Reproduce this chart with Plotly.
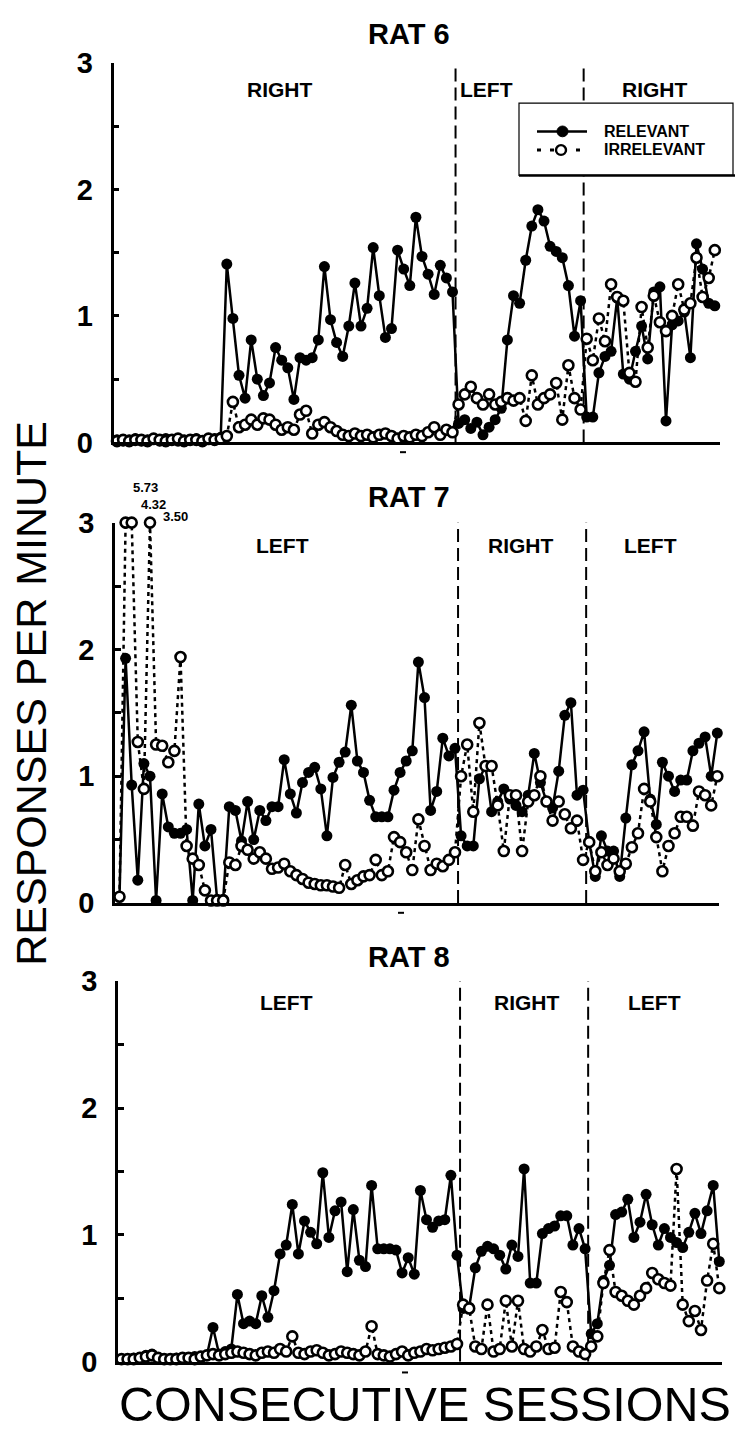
import numpy as np
import plotly.graph_objects as go

# ---------------- data ----------------
sessions = list(range(1, 100))

rat6_relevant = (
    [0.02, 0.01, 0.02, 0.03, 0.01, 0.02, 0.02, 0.01, 0.03, 0.02, 0.01, 0.02, 0.02, 0.03, 0.01, 0.02, 0.03, 0.04]
    + [1.41, 0.98, 0.53, 0.35, 0.81, 0.50, 0.37, 0.47, 0.75, 0.65, 0.59, 0.34, 0.67, 0.65, 0.67, 0.81, 1.39, 0.97,
       0.79, 0.68, 0.92, 1.26, 0.92, 1.06, 1.54, 1.16, 0.83, 0.90, 1.52, 1.37, 1.24, 1.78, 1.47, 1.33, 1.17, 1.40,
       1.30, 1.19]
    + [0.15, 0.18, 0.11, 0.16, 0.06, 0.12, 0.18, 0.27, 0.81, 1.16, 1.10, 1.44, 1.71, 1.84, 1.75, 1.55, 1.51, 1.46,
       1.24, 0.84, 1.12]
    + [0.20, 0.20, 0.55, 0.68, 0.72, 1.14, 0.54, 0.50, 0.72, 0.92, 0.66, 1.19, 1.23, 0.17, 0.93, 0.96, 1.03, 0.67,
       1.57, 1.37, 1.10, 1.08]
)
rat6_irrelevant = (
    [0.01, 0.02, 0.01, 0.02, 0.02, 0.01, 0.03, 0.02, 0.01, 0.02, 0.03, 0.01, 0.02, 0.02, 0.01, 0.03, 0.02, 0.03]
    + [0.05, 0.32, 0.12, 0.14, 0.18, 0.14, 0.19, 0.18, 0.14, 0.10, 0.12, 0.10, 0.22, 0.25, 0.07, 0.14, 0.16, 0.12,
       0.09, 0.06, 0.05, 0.07, 0.05, 0.06, 0.04, 0.06, 0.07, 0.05, 0.03, 0.05, 0.04, 0.06, 0.05, 0.08, 0.12, 0.06,
       0.10, 0.08]
    + [0.30, 0.38, 0.44, 0.35, 0.30, 0.38, 0.30, 0.32, 0.35, 0.33, 0.35, 0.17, 0.53, 0.30, 0.35, 0.38, 0.47, 0.18,
       0.61, 0.35, 0.26]
    + [0.82, 0.65, 0.98, 0.80, 1.25, 1.15, 1.12, 0.55, 0.48, 1.07, 0.75, 1.16, 0.95, 0.88, 1.00, 1.25, 1.05, 1.10,
       1.46, 1.15, 1.30, 1.52]
)

rat7_relevant = (
    [0.05, 1.93, 0.93, 0.18, 1.10, 1.00, 0.02, 0.86, 0.60, 0.55, 0.55, 0.58, 0.02, 0.78, 0.45, 0.58, 0.03, 0.03]
    + [0.76, 0.73, 0.49, 0.80, 0.50, 0.73, 0.65, 0.76, 0.76, 1.13, 0.86, 0.71, 0.95, 1.03, 1.07, 0.90, 0.53, 0.99,
       1.11, 1.19, 1.56, 1.12, 1.03, 0.81, 0.68, 0.68, 0.68, 0.89, 1.03, 1.12, 1.20, 1.90, 1.62, 0.73, 0.88, 1.30,
       1.16, 1.22]
    + [0.53, 0.45, 0.45, 0.98, 1.08, 0.72, 0.80, 0.90, 0.82, 0.77, 0.72, 0.85, 1.18, 0.95, 0.80, 0.75, 1.04, 1.48,
       1.58, 0.85, 0.89]
    + [0.48, 0.21, 0.53, 0.41, 0.41, 0.21, 0.67, 1.09, 1.20, 1.35, 0.82, 0.62, 1.11, 1.00, 0.88, 0.97, 0.97, 1.20,
       1.26, 1.31, 1.00, 1.34]
)
rat7_irrelevant = (
    [0.05, 5.73, 4.32, 1.27, 0.90, 3.50, 1.25, 1.24, 1.11, 1.20, 1.94, 0.45, 0.35, 0.30, 0.10, 0.02, 0.02, 0.02]
    + [0.32, 0.30, 0.45, 0.42, 0.35, 0.40, 0.35, 0.27, 0.28, 0.31, 0.25, 0.22, 0.19, 0.16, 0.15, 0.14, 0.14, 0.13,
       0.12, 0.30, 0.15, 0.18, 0.21, 0.22, 0.34, 0.22, 0.25, 0.52, 0.48, 0.40, 0.26, 0.66, 0.45, 0.26, 0.31, 0.29,
       0.34, 0.40]
    + [1.00, 1.25, 0.72, 1.42, 1.08, 1.08, 0.77, 0.41, 0.85, 0.85, 0.41, 0.80, 0.85, 1.00, 0.80, 0.65, 0.80, 0.70,
       0.59, 0.65, 0.34]
    + [0.48, 0.25, 0.40, 0.30, 0.35, 0.25, 0.31, 0.44, 0.55, 0.90, 0.80, 0.52, 0.25, 0.45, 0.55, 0.68, 0.68, 0.61,
       0.88, 0.85, 0.77, 1.00]
)

rat8_relevant = (
    [0.02, 0.02, 0.03, 0.02, 0.05, 0.06, 0.03, 0.02, 0.02, 0.03, 0.02, 0.03, 0.04, 0.03, 0.05]
    + [0.27, 0.06, 0.08, 0.10, 0.53, 0.30, 0.32, 0.30, 0.52, 0.35, 0.56, 0.85, 0.92, 1.24, 0.85, 1.11, 1.02, 0.93,
       1.49, 0.98, 1.19, 1.26, 0.71, 1.20, 0.80, 0.75, 1.39, 0.89, 0.89, 0.89, 0.88, 0.70, 0.82, 0.69, 1.35, 1.12,
       1.06, 1.11, 1.12, 1.47, 0.84]
    + [0.42, 0.43, 0.74, 0.87, 0.91, 0.89, 0.84, 0.73, 0.92, 0.83, 1.52, 0.62, 0.62, 1.01, 1.05, 1.07, 1.15, 1.15,
       0.92, 1.05, 0.89]
    + [0.22, 0.30, 0.64, 0.76, 1.16, 1.18, 1.28, 0.98, 1.10, 1.32, 1.08, 0.92, 1.05, 0.98, 0.94, 0.90, 1.02, 1.17,
       1.01, 1.19, 1.39, 0.79]
)
rat8_irrelevant = (
    [0.02, 0.02, 0.02, 0.03, 0.04, 0.05, 0.03, 0.02, 0.02, 0.02, 0.03, 0.03, 0.02, 0.04, 0.05, 0.06, 0.05, 0.06,
     0.07, 0.08, 0.07, 0.06, 0.05, 0.07, 0.08, 0.07, 0.10, 0.08, 0.20, 0.07, 0.06, 0.08, 0.09, 0.07, 0.05, 0.06,
     0.08, 0.07, 0.06, 0.05, 0.08, 0.28, 0.06, 0.05, 0.04, 0.06, 0.08, 0.05, 0.07, 0.08, 0.10, 0.09, 0.10, 0.11,
     0.12, 0.14]
    + [0.45, 0.42, 0.12, 0.10, 0.45, 0.08, 0.10, 0.48, 0.12, 0.48, 0.10, 0.08, 0.12, 0.25, 0.10, 0.11, 0.55, 0.47,
       0.12, 0.08, 0.06]
    + [0.12, 0.20, 0.62, 0.88, 0.55, 0.52, 0.48, 0.45, 0.52, 0.58, 0.70, 0.65, 0.62, 0.60, 1.52, 0.45, 0.32, 0.40,
       0.25, 0.64, 0.93, 0.58]
)

panel_titles = ["RAT 6", "RAT 7", "RAT 8"]
phase_labels = [["RIGHT", "LEFT", "RIGHT"], ["LEFT", "RIGHT", "LEFT"], ["LEFT", "RIGHT", "LEFT"]]
phase_breaks = [56.5, 77.5]          # condition changes between sessions
y_tick_vals = [0, 0.5, 1, 1.5, 2, 2.5, 3]
y_tick_text = ["0", "", "1", "", "2", "", "3"]
legend_names = ["RELEVANT", "IRRELEVANT"]
y_title = "RESPONSES PER MINUTE"
x_title = "CONSECUTIVE SESSIONS"
Y_CEIL = 3.0

relevant = [rat6_relevant, rat7_relevant, rat8_relevant]
irrelevant = [rat6_irrelevant, rat7_irrelevant, rat8_irrelevant]
for arr in relevant + irrelevant:
    assert len(arr) == len(sessions), len(arr)

# ---------------- geometry ----------------
W, H = 737, 1453
FONT = "Liberation Sans, Arial, Helvetica, sans-serif"


def fx(px):
    return px / W


def fy(py):
    return 1 - py / H


STEP = 6.1  # pixels per session
geom = [
    dict(left=113.5, right=720, first=117.0, base=436, top=48, title_y=18, label_y=75,
         label_x=[27.7, 61.5, 89.2], mark=(403, 446)),
    dict(left=115.0, right=719, first=119.5, base=907, top=518, title_y=492, label_y=541,
         label_x=[27.8, 66.8, 88.0], mark=(401, 917)),
    dict(left=118.0, right=722, first=121.5, base=1376, top=987, title_y=962, label_y=1009,
         label_x=[28.1, 67.5, 88.4], mark=(405, 1387)),
]

fig = go.Figure()
layout = dict(
    width=W, height=H, autosize=False,
    margin=dict(l=0, r=0, t=0, b=0),
    paper_bgcolor="white", plot_bgcolor="white",
    showlegend=False,
    font=dict(family=FONT, color="black"),
)
shapes = []
annotations = []

for i in range(3):
    g = geom[i]
    k = "" if i == 0 else str(i + 1)
    xa, ya = "x" + k, "y" + k
    r0 = 1 + (g["left"] - g["first"]) / STEP
    r1 = 1 + (g["right"] - g["first"]) / STEP
    layout["xaxis" + k] = dict(
        domain=[fx(g["left"]), fx(g["right"])], range=[r0, r1], anchor=ya,
        showline=True, linewidth=3, linecolor="black", showgrid=False, zeroline=False,
        showticklabels=False, ticks="",
    )
    layout["yaxis" + k] = dict(
        domain=[fy(g["base"]), fy(g["top"])], range=[0, 3], anchor=xa,
        showline=True, linewidth=2.5, linecolor="black", showgrid=False, zeroline=False,
        tickmode="array", tickvals=y_tick_vals, ticktext=y_tick_text,
        ticks="inside", ticklen=6, tickwidth=2.5, tickcolor="black",
        tickfont=dict(family=FONT, size=29, weight="bold", color="black"),
        ticklabelstandoff=12,
    )

    rel = np.array(relevant[i], dtype=float)
    irr = np.array(irrelevant[i], dtype=float)
    irr_plot = np.minimum(irr, Y_CEIL)

    fig.add_trace(go.Scatter(
        x=sessions, y=rel, xaxis=xa, yaxis=ya, mode="lines+markers",
        line=dict(color="black", width=2.5),
        marker=dict(symbol="circle", size=11, color="black"),
        cliponaxis=False, name=legend_names[0],
    ))
    fig.add_trace(go.Scatter(
        x=sessions, y=irr_plot, xaxis=xa, yaxis=ya, mode="lines+markers",
        line=dict(color="black", width=2.5, dash="4px,4px"),
        marker=dict(symbol="circle", size=10, color="white", line=dict(color="black", width=2.6)),
        cliponaxis=False, name=legend_names[1],
    ))

    # values beyond the axis ceiling are drawn at the top and labelled
    offsets = [(20, 35), (22, 18), (25, 6)]
    n_off = 0
    for s, v in zip(sessions, irr):
        if v > Y_CEIL:
            dx, dy = offsets[min(n_off, len(offsets) - 1)]
            annotations.append(dict(
                x=s, y=Y_CEIL, xref=xa, yref=ya, text=f"{v:.2f}", showarrow=False,
                xshift=dx, yshift=dy, font=dict(family=FONT, size=13, weight="bold"),
            ))
            n_off += 1

    # condition boundaries
    for b in phase_breaks:
        shapes.append(dict(
            type="line", xref=xa, yref=ya, x0=b, x1=b, y0=0, y1=3, layer="below",
            line=dict(color="black", width=2, dash="13px,6px"),
        ))

    # panel title and condition labels
    annotations.append(dict(
        x=fx(409), y=fy(g["title_y"]), xref="paper", yref="paper", text=panel_titles[i],
        showarrow=False, xanchor="center", yanchor="middle",
        font=dict(family=FONT, size=29, weight="bold"),
    ))
    for lx, lab in zip(g["label_x"], phase_labels[i]):
        annotations.append(dict(
            x=lx, y=fy(g["label_y"]), xref=xa, yref="paper", text=lab, showarrow=False,
            xanchor="center", yanchor="middle", font=dict(family=FONT, size=21, weight="bold"),
        ))

    # small mark below the middle of each session axis
    mx, my = g["mark"]
    shapes.append(dict(type="line", xref="paper", yref="paper",
                       x0=fx(mx - 3), x1=fx(mx + 3), y0=fy(my), y1=fy(my),
                       line=dict(color="black", width=2)))

# key box in the first panel
shapes += [
    dict(type="rect", xref="paper", yref="paper", x0=fx(519), x1=fx(733), y0=fy(163), y1=fy(89),
         fillcolor="white", line=dict(color="black", width=1.2), layer="above"),
    dict(type="line", xref="paper", yref="paper", x0=fx(519), x1=fx(735), y0=fy(163), y1=fy(163),
         line=dict(color="black", width=2.5)),
    dict(type="line", xref="paper", yref="paper", x0=fx(537), x1=fx(587), y0=fy(118), y1=fy(118),
         line=dict(color="black", width=2.5)),
    dict(type="circle", xref="paper", yref="paper", x0=fx(557), x1=fx(568), y0=fy(123.5), y1=fy(112.5),
         fillcolor="black", line=dict(color="black", width=1)),
    dict(type="line", xref="paper", yref="paper", x0=fx(537), x1=fx(589), y0=fy(137), y1=fy(137),
         line=dict(color="black", width=3, dash="4px,9px")),
    dict(type="circle", xref="paper", yref="paper", x0=fx(556), x1=fx(566), y0=fy(142), y1=fy(132),
         fillcolor="white", line=dict(color="black", width=2.4)),
]
for name, ty in zip(legend_names, [118, 137]):
    annotations.append(dict(
        x=fx(602), y=fy(ty), xref="paper", yref="paper", text=name, showarrow=False,
        xanchor="left", yanchor="middle", font=dict(family=FONT, size=16, weight="bold"),
    ))

# shared axis titles
annotations.append(dict(
    x=fx(31), y=fy(693), xref="paper", yref="paper", text=y_title, showarrow=False,
    textangle=-90, xanchor="center", yanchor="middle", font=dict(family=FONT, size=43),
))
annotations.append(dict(
    x=fx(425), y=fy(1419), xref="paper", yref="paper", text=x_title, showarrow=False,
    xanchor="center", yanchor="middle", font=dict(family=FONT, size=48.5),
))

layout["shapes"] = shapes
layout["annotations"] = annotations
fig.update_layout(**layout)
fig.write_html("out.html")
